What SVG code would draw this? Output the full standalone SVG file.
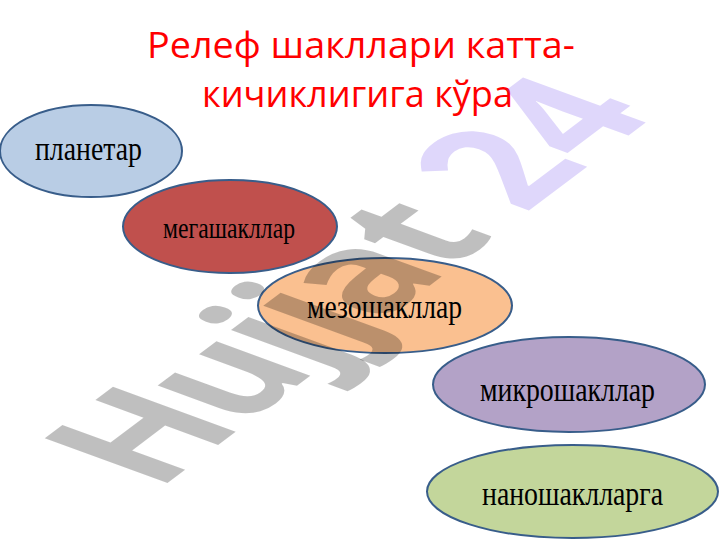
<svg xmlns="http://www.w3.org/2000/svg" width="720" height="540" viewBox="0 0 720 540">
  <style>
    .title { font-family: "Open Sans", "Liberation Sans", sans-serif; font-size: 36px; fill: #ff0000; text-anchor: middle; }
    .node ellipse { stroke: #385d8a; stroke-width: 2; }
    .lbl { font-family: "Liberation Serif", "DejaVu Serif", serif; font-size: 33px; fill: #000000; text-anchor: middle; }
    .wm { font-family: "Open Sans", "Liberation Sans", sans-serif; font-weight: 700; font-size: 100px; }
  </style>
  <rect width="720" height="540" fill="#ffffff"/>

  <g id="title">
    <text class="title" x="361" y="58" textLength="428" lengthAdjust="spacingAndGlyphs">Релеф шакллари катта-</text>
    <text class="title" x="357.5" y="107" textLength="311" lengthAdjust="spacingAndGlyphs">кичиклигига кўра</text>
  </g>

  <g id="planetar" class="node">
    <ellipse cx="91" cy="151" rx="91" ry="46" fill="#b9cde5"/>
    <text class="lbl" x="88.5" y="160" textLength="107" lengthAdjust="spacingAndGlyphs">планетар</text>
  </g>

  <g id="mezoshakllar" class="node">
    <ellipse cx="385" cy="305.5" rx="127" ry="47.5" fill="#fac090"/>
    <text class="lbl" x="384.5" y="318" textLength="155" lengthAdjust="spacingAndGlyphs">мезошакллар</text>
  </g>

  <g id="watermark" class="wm" transform="matrix(1.166,-0.879,1.72,0.63,157,491)">
    <text x="0" y="0"><tspan fill="#000000" fill-opacity="0.25" letter-spacing="-3">Hujjat</tspan><tspan fill="#8060f0" fill-opacity="0.25"> 24</tspan></text>
  </g>

  <g id="megashakllar" class="node">
    <ellipse cx="230" cy="226.5" rx="107" ry="46.5" fill="#c0504d"/>
    <text class="lbl" x="229" y="238" style="font-size:29px" textLength="132" lengthAdjust="spacingAndGlyphs">мегашакллар</text>
  </g>

  <g id="mikroshakllar" class="node">
    <ellipse cx="569" cy="384.5" rx="136" ry="47.5" fill="#b3a2c7"/>
    <text class="lbl" x="567.5" y="401" textLength="175" lengthAdjust="spacingAndGlyphs">микрошакллар</text>
  </g>

  <g id="nanoshakllarga" class="node">
    <ellipse cx="572.5" cy="491.5" rx="145.5" ry="46.5" fill="#c3d69b"/>
    <text class="lbl" x="572.5" y="505" textLength="181" lengthAdjust="spacingAndGlyphs">наношаклларга</text>
  </g>
</svg>
